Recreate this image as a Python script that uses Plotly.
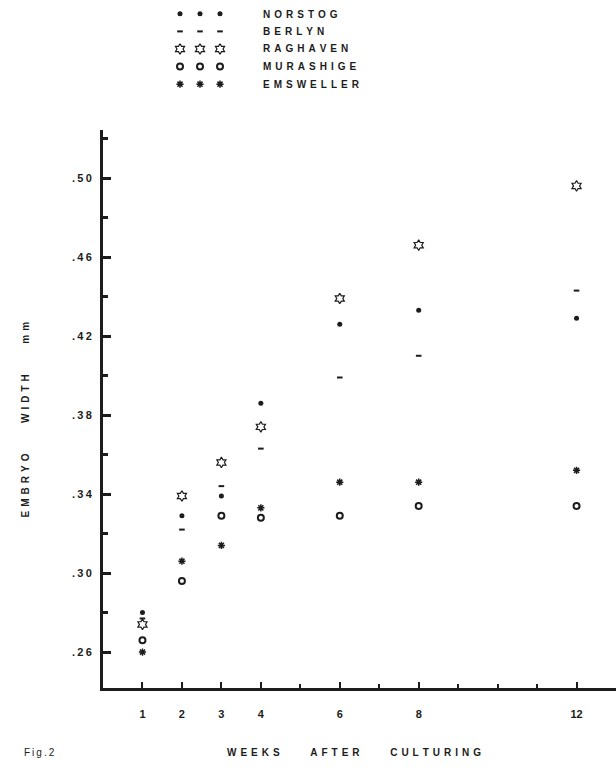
import plotly.graph_objects as go

# ---- data ----
weeks = [1, 2, 3, 4, 6, 8, 12]
norstog = [0.280, 0.329, 0.339, 0.386, 0.426, 0.433, 0.429]
berlyn = [0.277, 0.322, 0.344, 0.363, 0.399, 0.410, 0.443]
raghaven = [0.274, 0.339, 0.356, 0.374, 0.439, 0.466, 0.496]
murashige = [0.266, 0.296, 0.329, 0.328, 0.329, 0.334, 0.334]
emsweller = [0.260, 0.306, 0.314, 0.333, 0.346, 0.346, 0.352]

series_names = ["NORSTOG", "BERLYN", "RAGHAVEN", "MURASHIGE", "EMSWELLER"]
x_tick_vals = [1, 2, 3, 4, 6, 8, 12]
x_tick_text = ["1", "2", "3", "4", "6", "8", "12"]
x_minor_vals = [5, 7, 9, 10, 11]
y_tick_vals = [0.26, 0.30, 0.34, 0.38, 0.42, 0.46, 0.50]
y_tick_text = [".26", ".30", ".34", ".38", ".42", ".46", ".50"]
y_minor_vals = [0.28, 0.32, 0.36, 0.40, 0.44, 0.48, 0.52]

INK = "#1c1c1c"
FONT = "Liberation Sans"
W, H = 616, 770


def spaced(s, gap=1, word_gap=10):
    sep = "\u2009" * gap
    words = [sep.join(w) for w in s.split(" ")]
    return ("\u00a0" * word_gap).join(words)


def bold(s):
    return "<b>" + s + "</b>"


styles = {
    "NORSTOG": dict(symbol="circle", size=5, color=INK, line=dict(width=0)),
    "BERLYN": dict(symbol="line-ew", size=4, color=INK, line=dict(width=2, color=INK)),
    "RAGHAVEN": dict(symbol="hexagram-open", size=8, color=INK, line=dict(width=1.2, color=INK)),
    "MURASHIGE": dict(symbol="circle-open", size=6, color=INK, line=dict(width=2, color=INK)),
    "EMSWELLER": dict(symbol="asterisk", size=6, color=INK, line=dict(width=1.5, color=INK)),
}
values = {
    "NORSTOG": norstog,
    "BERLYN": berlyn,
    "RAGHAVEN": raghaven,
    "MURASHIGE": murashige,
    "EMSWELLER": emsweller,
}

fig = go.Figure()
for name in series_names:
    fig.add_trace(go.Scatter(x=weeks, y=values[name], mode="markers", name=name,
                             marker=styles[name], showlegend=False,
                             xaxis="x", yaxis="y"))

# hand-drawn style legend: three markers per row on a small hidden axis
leg_rows_px = [14, 31.5, 49, 66.5, 84]
for i, name in enumerate(series_names):
    fig.add_trace(go.Scatter(x=[0, 1, 2], y=[i, i, i], mode="markers",
                             marker=styles[name], showlegend=False,
                             xaxis="x2", yaxis="y2", hoverinfo="skip"))
    fig.add_annotation(x=261 / W, y=1 - leg_rows_px[i] / H, xref="paper", yref="paper",
                       text=bold(spaced(name, gap=2)),
                       showarrow=False, xanchor="left", yanchor="middle",
                       font=dict(family=FONT, size=10, color=INK))

x0_px, x1_px = 103, 616
ytop_px, ybot_px = 130, 688

fig.update_layout(
    width=W, height=H,
    margin=dict(l=0, r=0, t=0, b=0),
    paper_bgcolor="white", plot_bgcolor="white",
    xaxis=dict(
        domain=[x0_px / W, x1_px / W], range=[0, 13],
        showgrid=False, zeroline=False,
        showline=True, linewidth=3, linecolor=INK,
        tickmode="array", tickvals=x_tick_vals, ticktext=[bold(t) for t in x_tick_text],
        ticks="inside", ticklen=6, tickwidth=2, tickcolor=INK,
        minor=dict(tickvals=x_minor_vals, ticks="inside", ticklen=4, tickwidth=2, tickcolor=INK),
        tickfont=dict(family=FONT, size=11, color=INK),
        ticklabelstandoff=14,
    ),
    yaxis=dict(
        domain=[1 - ybot_px / H, 1 - ytop_px / H], range=[0.2418, 0.5243],
        showgrid=False, zeroline=False,
        showline=True, linewidth=3, linecolor=INK,
        tickmode="array", tickvals=y_tick_vals,
        ticktext=[bold(spaced(t, gap=1)) for t in y_tick_text],
        ticks="inside", ticklen=8, tickwidth=3, tickcolor=INK,
        minor=dict(tickvals=y_minor_vals, ticks="inside", ticklen=5, tickwidth=2.5, tickcolor=INK),
        tickfont=dict(family=FONT, size=11, color=INK),
        ticklabelstandoff=6,
    ),
    xaxis2=dict(domain=[170 / W, 230 / W], range=[-0.5, 2.5], visible=False, anchor="y2"),
    yaxis2=dict(domain=[1 - 93 / H, 1 - 5 / H], range=[4.5, -0.5], visible=False, anchor="x2"),
)

fig.add_annotation(x=18 / W, y=1 - 420 / H, xref="paper", yref="paper",
                   text=bold(spaced("EMBRYO WIDTH mm", gap=2, word_gap=11)),
                   textangle=-90, showarrow=False,
                   font=dict(family=FONT, size=10, color=INK))
fig.add_annotation(x=354 / W, y=1 - 760 / H, xref="paper", yref="paper",
                   text=bold(spaced("WEEKS AFTER CULTURING", gap=2, word_gap=11)),
                   showarrow=False,
                   font=dict(family=FONT, size=10, color=INK))
fig.add_annotation(x=22 / W, y=1 - 760 / H, xref="paper", yref="paper",
                   text=spaced("Fig.2", gap=1), showarrow=False, xanchor="left",
                   font=dict(family=FONT, size=10, color=INK))

fig.write_html("out.html", config={"displayModeBar": False},
               post_script="document.body.style.margin='0';")
